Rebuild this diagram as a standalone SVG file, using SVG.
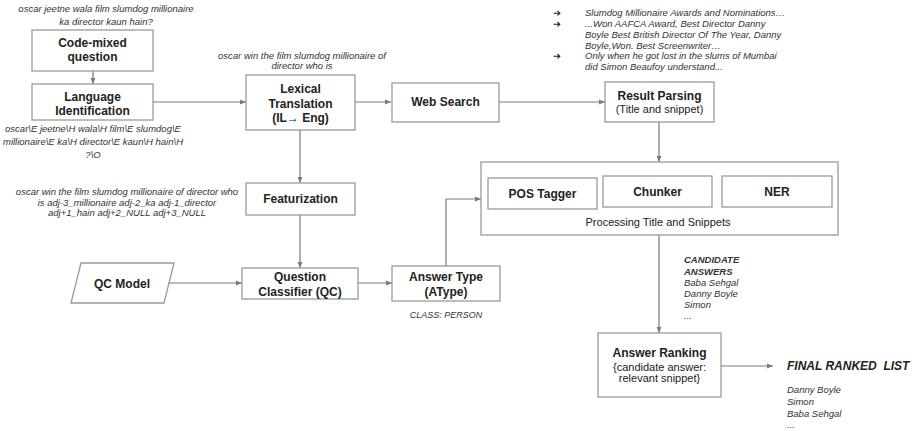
<svg xmlns="http://www.w3.org/2000/svg" width="914" height="431" viewBox="0 0 914 431">
<defs>
<style>
.box{fill:#fff;stroke:#9a9a9a;stroke-width:1.3}
.b{font-family:"Liberation Sans",Arial,sans-serif;font-weight:bold;font-size:12px;fill:#222;text-anchor:middle}
.r{font-family:"Liberation Sans",Arial,sans-serif;font-size:11px;fill:#222;text-anchor:middle}
.a{font-family:"Liberation Sans",Arial,sans-serif;font-style:italic;font-size:9.5px;fill:#333}
.am{text-anchor:middle}
.bi{font-weight:bold}
.ln{fill:none;stroke:#7a7a7a;stroke-width:1.2}
</style>
<marker id="ah" viewBox="0 0 10 10" refX="10" refY="5" markerWidth="6" markerHeight="6" orient="auto" markerUnits="userSpaceOnUse">
<path d="M0,1 L10,5 L0,9 z" fill="#7a7a7a"/>
</marker>
</defs>
<rect width="914" height="431" fill="#fff"/>

<g id="connectors">
<line class="ln" x1="93" y1="71" x2="93" y2="84" marker-end="url(#ah)"/>
<line class="ln" x1="153" y1="102" x2="246" y2="102" marker-end="url(#ah)"/>
<line class="ln" x1="355" y1="102" x2="391" y2="102" marker-end="url(#ah)"/>
<line class="ln" x1="499" y1="102" x2="605" y2="102" marker-end="url(#ah)"/>
<line class="ln" x1="659" y1="122" x2="659" y2="162" marker-end="url(#ah)"/>
<line class="ln" x1="300" y1="130" x2="300" y2="183" marker-end="url(#ah)"/>
<line class="ln" x1="300" y1="215" x2="300" y2="268" marker-end="url(#ah)"/>
<line class="ln" x1="169" y1="283" x2="242" y2="283" marker-end="url(#ah)"/>
<line class="ln" x1="358" y1="283" x2="392" y2="283" marker-end="url(#ah)"/>
<polyline class="ln" points="446,266 446,199 481,199" marker-end="url(#ah)"/>
<line class="ln" x1="659" y1="235" x2="659" y2="333" marker-end="url(#ah)"/>
<line class="ln" x1="721" y1="366" x2="773" y2="366" marker-end="url(#ah)"/>
</g>

<g id="code-mixed">
<text class="a am" x="106" y="12">oscar jeetne wala film slumdog millionaire</text>
<text class="a am" x="106" y="25">ka director kaun hain?</text>
<rect class="box" x="32" y="30" width="121" height="41"/>
<text class="b" x="92.5" y="47">Code-mixed</text>
<text class="b" x="92.5" y="61">question</text>
</g>

<g id="language-identification">
<rect class="box" x="32" y="84" width="121" height="36"/>
<text class="b" x="92.5" y="101">Language</text>
<text class="b" x="92.5" y="114.5">Identification</text>
<text class="a am" x="93" y="132">oscar\E jeetne\H wala\H film\E slumdog\E</text>
<text class="a am" x="93" y="145">millionaire\E ka\H director\E kaun\H hain\H</text>
<text class="a am" x="93" y="158">?\O</text>
</g>

<g id="lexical-translation">
<text class="a am" x="302" y="58.5">oscar win the film slumdog millionaire of</text>
<text class="a am" x="302" y="68.5">director who is</text>
<rect class="box" x="246" y="75" width="109" height="55"/>
<text class="b" x="300.5" y="93.3">Lexical</text>
<text class="b" x="300.5" y="107.6">Translation</text>
<text class="b" x="300.5" y="121.6">(IL→ Eng)</text>
</g>

<g id="web-search">
<rect class="box" x="392" y="83" width="107" height="39"/>
<text class="b" x="445.5" y="106.3">Web Search</text>
</g>

<g id="snippets">
<text style="font-family:'DejaVu Sans',sans-serif;font-size:9.5px;fill:#222"><tspan x="553" y="16">➔</tspan><tspan x="553" y="26.8">➔</tspan><tspan x="553" y="59.4">➔</tspan></text>
<text class="a" x="585" y="16">Slumdog Millionaire Awards and Nominations…</text>
<text class="a" x="585" y="26.8">...Won AAFCA Award, Best Director Danny</text>
<text class="a" x="585" y="37.7">Boyle Best British Director Of The Year, Danny</text>
<text class="a" x="585" y="48.5">Boyle,Won. Best Screenwriter…</text>
<text class="a" x="585" y="59.4">Only when he got lost in the slums of Mumbai</text>
<text class="a" x="585" y="70.2">did Simon Beaufoy understand...</text>
</g>

<g id="result-parsing">
<rect class="box" x="605" y="82" width="109" height="40"/>
<text class="b" x="659.5" y="100.3">Result Parsing</text>
<text class="r" x="659.5" y="113.2">(Title and snippet)</text>
</g>

<g id="featurization">
<text class="a am" x="127" y="195.4">oscar win the film slumdog millionaire of director who</text>
<text class="a am" x="127" y="205.8">is adj-3_millionaire adj-2_ka adj-1_director</text>
<text class="a am" x="127" y="216.2">adj+1_hain adj+2_NULL adj+3_NULL</text>
<rect class="box" x="246" y="183" width="109" height="32"/>
<text class="b" x="300.5" y="203.3">Featurization</text>
</g>

<g id="qc-model">
<polygon class="box" points="81,263 174,263 164,303 71,303"/>
<text class="b" x="122" y="288.3">QC Model</text>
</g>

<g id="question-classifier">
<rect class="box" x="242" y="268" width="116" height="31"/>
<text class="b" x="300" y="281">Question</text>
<text class="b" x="300" y="296">Classifier (QC)</text>
</g>

<g id="answer-type">
<rect class="box" x="392" y="266" width="108" height="35"/>
<text class="b" x="446" y="281.3">Answer Type</text>
<text class="b" x="446" y="296">(AType)</text>
<text class="a am" x="446" y="318.3" style="font-size:9px">CLASS: PERSON</text>
</g>

<g id="processing">
<rect class="box" x="481" y="162" width="357" height="73"/>
<rect class="box" x="488" y="178" width="109" height="31"/>
<text class="b" x="542.5" y="198.3">POS Tagger</text>
<rect class="box" x="603" y="176" width="109" height="31"/>
<text class="b" x="657.5" y="196.3">Chunker</text>
<rect class="box" x="722" y="176" width="110" height="31"/>
<text class="b" x="777" y="196.3">NER</text>
<text class="r" x="658" y="225.8">Processing Title and Snippets</text>
</g>

<g id="candidate-answers">
<text class="a bi" x="684" y="263.4">CANDIDATE</text>
<text class="a bi" x="684" y="274.9">ANSWERS</text>
<text class="a" x="684" y="286.4">Baba Sehgal</text>
<text class="a" x="684" y="297.4">Danny Boyle</text>
<text class="a" x="684" y="308.4">Simon</text>
<text class="a" x="684" y="319.4">...</text>
</g>

<g id="answer-ranking">
<rect class="box" x="598" y="333" width="123" height="64"/>
<text class="b" x="659.5" y="357.3">Answer Ranking</text>
<text class="r" x="659.5" y="370.8">{candidate answer:</text>
<text class="r" x="659.5" y="382.3">relevant snippet}</text>
</g>

<g id="final-list">
<text class="a bi" x="787" y="370.3" style="font-size:12px;fill:#222" xml:space="preserve">FINAL RANKED  LIST</text>
<text class="a" x="787" y="393.4">Danny Boyle</text>
<text class="a" x="787" y="405">Simon</text>
<text class="a" x="787" y="416.6">Baba Sehgal</text>
<text class="a" x="787" y="428.2">...</text>
</g>
</svg>
